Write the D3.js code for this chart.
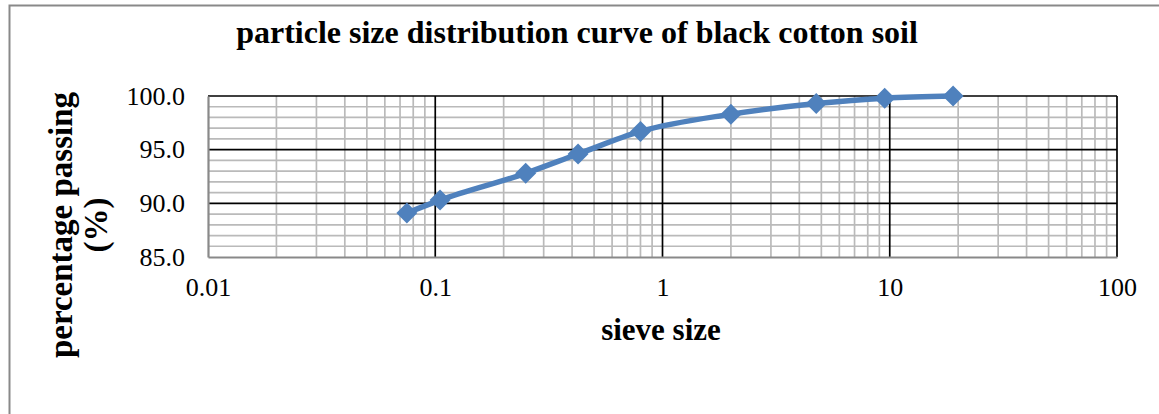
<!DOCTYPE html>
<html>
<head>
<meta charset="utf-8">
<script src="https://cdn.jsdelivr.net/npm/d3@7"></script>
<style>
  body { margin: 0; background: #fff; }
  svg { font-family: "Liberation Serif", "Times New Roman", serif; }
</style>
</head>
<body>
<div class="chart"></div>
<script>
const sieveSize = [0.075, 0.105, 0.25, 0.425, 0.8, 2, 4.75, 9.5, 19];
const percentPassing = [89.1, 90.3, 92.8, 94.6, 96.7, 98.3, 99.3, 99.8, 100.0];
const xTicks = [0.01, 0.1, 1, 10, 100];
const yTicks = [85, 90, 95, 100];

const margin = ({top: 96, right: 42, bottom: 157, left: 208});
const W = 1159, H = 414;
const width = W - margin.left - margin.right,
    height = H - margin.top - margin.bottom;

const root = d3.select(".chart").append("svg")
    .attr("width", W)
    .attr("height", H);

// outer chart frame
root.append("rect")
    .attr("x", 9.5).attr("y", 5.5)
    .attr("width", 1300).attr("height", 600)
    .attr("fill", "none")
    .attr("stroke", "#898989")
    .attr("stroke-width", 2);

const svg = root.append("g")
    .attr("transform", "translate(" + margin.left + "," + margin.top + ")");

const xScale = d3.scaleLog().domain([0.01, 100]).range([0, width]);
const yScale = d3.scaleLinear().domain([85, 100]).range([height, 0]);

// minor gridlines
const minorX = [];
for (let e = -2; e < 2; e++) for (let k = 2; k <= 9; k++) minorX.push(k * Math.pow(10, e));
const minorY = d3.range(86, 100, 1).filter(v => v % 5 !== 0);

svg.selectAll(".minor-x").data(minorX).enter().append("line")
    .attr("x1", d => xScale(d)).attr("x2", d => xScale(d))
    .attr("y1", 0).attr("y2", height)
    .attr("stroke", "#bababa").attr("stroke-width", 1.7);

svg.selectAll(".minor-y").data(minorY).enter().append("line")
    .attr("x1", 0).attr("x2", width)
    .attr("y1", d => yScale(d)).attr("y2", d => yScale(d))
    .attr("stroke", "#bababa").attr("stroke-width", 1.7);

// major gridlines
svg.selectAll(".major-x").data(xTicks.slice(1)).enter().append("line")
    .attr("x1", d => xScale(d)).attr("x2", d => xScale(d))
    .attr("y1", 0).attr("y2", height)
    .attr("stroke", "#000").attr("stroke-width", 1.7);

svg.selectAll(".major-y").data(yTicks.slice(1)).enter().append("line")
    .attr("x1", 0).attr("x2", width)
    .attr("y1", d => yScale(d)).attr("y2", d => yScale(d))
    .attr("stroke", "#000").attr("stroke-width", 1.7);

// axes
const xAxis = d3.axisBottom(xScale).tickValues(xTicks).tickSize(0).tickPadding(21)
    .tickFormat(d => String(d));
const gx = svg.append("g")
    .attr("transform", `translate(0, ${height})`)
    .call(xAxis);
gx.select(".domain").attr("stroke", "#898989").attr("stroke-width", 2.2);
gx.selectAll("text").attr("font-size", 26).attr("font-family", "Liberation Serif").attr("fill", "#000");

const yAxis = d3.axisLeft(yScale).tickValues(yTicks).tickSize(0).tickPadding(23)
    .tickFormat(d3.format(".1f"));
const gy = svg.append("g").call(yAxis);
gy.select(".domain").attr("stroke", "#898989").attr("stroke-width", 2.2);
gy.selectAll("text").attr("font-size", 26).attr("font-family", "Liberation Serif").attr("fill", "#000");

// data line
const pts = sieveSize.map((s, i) => [s, percentPassing[i]]);
svg.append("path")
    .datum(pts)
    .attr("fill", "none")
    .attr("stroke", "#4f81bd")
    .attr("stroke-width", 5.5)
    .attr("stroke-linejoin", "round")
    .attr("d", d3.line().x(d => xScale(d[0])).y(d => yScale(d[1])).curve(d3.curveMonotoneX));

svg.selectAll(".dot").data(pts).enter().append("path")
    .attr("transform", d => `translate(${xScale(d[0])},${yScale(d[1])})`)
    .attr("d", "M0,-10.5L10.5,0L0,10.5L-10.5,0Z")
    .attr("fill", "#4f81bd");

// titles
root.append("text")
    .attr("x", 577).attr("y", 43)
    .attr("text-anchor", "middle")
    .attr("font-size", 32).attr("font-weight", "bold")
    .text("particle size distribution curve of black cotton soil");

root.append("text")
    .attr("x", 661).attr("y", 340)
    .attr("text-anchor", "middle")
    .attr("font-size", 31).attr("font-weight", "bold")
    .text("sieve size");

const yl = root.append("text")
    .attr("transform", "translate(72,225) rotate(-90)")
    .attr("text-anchor", "middle")
    .attr("font-size", 33).attr("font-weight", "bold");
yl.append("tspan").attr("x", 0).attr("y", 0).text("percentage passing");
yl.append("tspan").attr("x", 0).attr("y", 35).text("(%)");
</script>
</body>
</html>
